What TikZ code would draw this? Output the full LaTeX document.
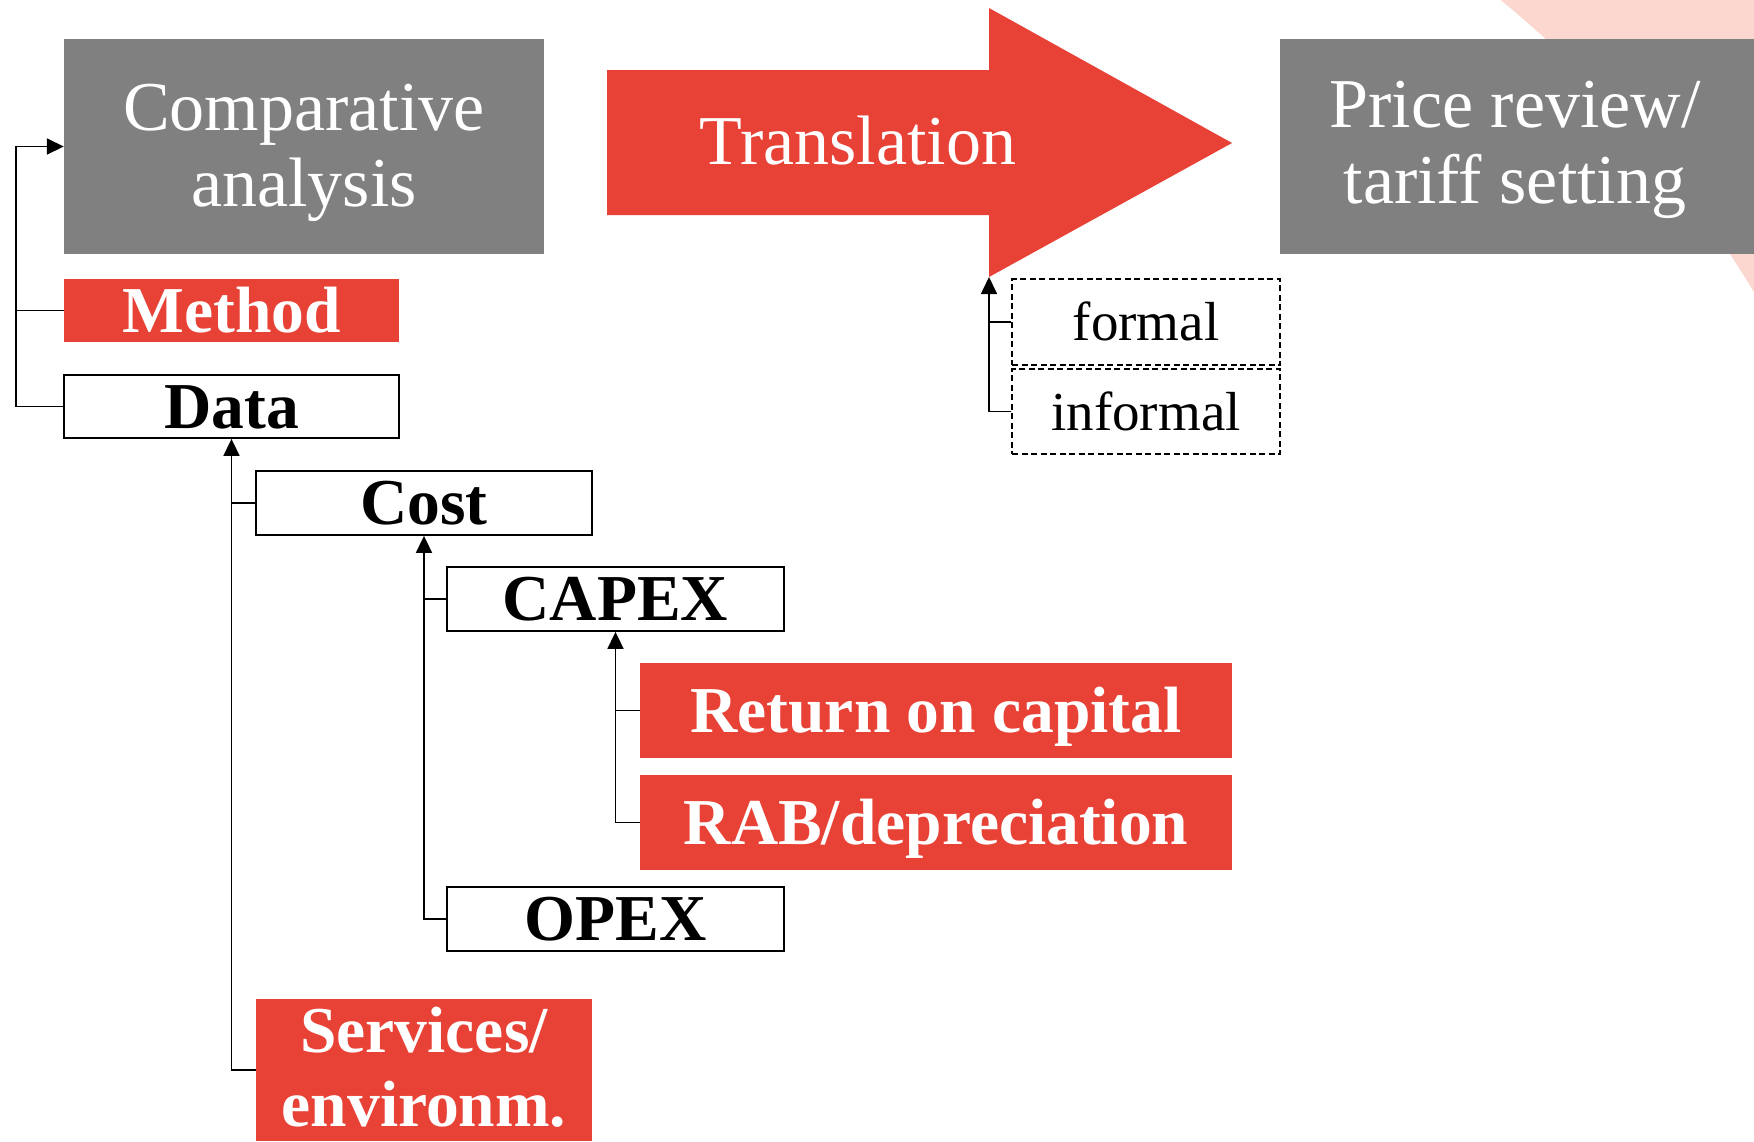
\documentclass[tikz,border=0pt]{standalone}
\usepackage{fontspec}
\setmainfont{Liberation Serif}
\usetikzlibrary{arrows.meta}

\definecolor{cred}{RGB}{232,65,54}
\definecolor{cgray}{RGB}{128,128,128}
\definecolor{cpink}{RGB}{252,215,207}

\newcommand\boldbig{\fontsize{65.5}{74}\selectfont\bfseries}
\newcommand\regbig{\fontsize{70}{76}\selectfont}
\newcommand\regsmall{\fontsize{55}{60}\selectfont}

\tikzset{
  redbox/.style={fill=cred, text=white, inner sep=0pt, font=\boldbig,
    text height=43pt, text depth=0pt},
  whitebox/.style={draw=black, line width=1.8pt, fill=white, inner sep=0pt,
    font=\boldbig, text height=43pt, text depth=0pt},
  graybox/.style={fill=cgray, inner sep=0pt},
  dashbox/.style={draw=black, dash pattern=on 6pt off 3.5pt, line width=1.4pt,
    inner sep=0pt, font=\regsmall, text height=37pt, text depth=0pt},
  whitetext/.style={text=white, inner sep=0pt, align=center},
  conn/.style={line width=1.7pt, draw=black},
  arr/.style={conn, -{Triangle[length=17pt,width=16pt]}},
}

\begin{document}
\begin{tikzpicture}[x=1pt, y=-1pt]
\useasboundingbox (0,0) rectangle (1754,1141);

% decorative corner band: the area outside a large circle
\begin{scope}
  \clip (1400,0) rectangle (1754,400);
  \fill[cpink, even odd rule] (1300,-100) rectangle (1900,500)
    (776,884) circle[radius=1143pt];
\end{scope}

% translation arrow
\coordinate (tbl) at (607,70);
\coordinate (tcorner) at (989,277);
\fill[cred] (tbl) -- (989,70) -- (989,8) -- (1232,143) -- (tcorner)
  -- (989,215) -- (607,215) -- cycle;
\node[whitetext, font=\regbig, anchor=base] (translabel) at (858,164) {Translation};

% top row boxes (base anchor of a two-line node sits on its last line)
\node[graybox, minimum width=480pt, minimum height=215pt] (comp) at (304,146.5) {};
\node[whitetext, font=\regbig, anchor=base] (comptext) at (304,206.7) {Comparative\\analysis};
\node[graybox, minimum width=474pt, minimum height=215pt] (price) at (1517,146.5) {};
\node[whitetext, font=\regbig, anchor=base] (pricetext) at (1515,203) {Price review/\\tariff setting};

% hierarchy boxes
\node[redbox, minimum width=335pt, minimum height=63pt] (method) at (231.5,310.5) {Method};
\node[whitebox, minimum width=335pt, minimum height=63pt] (data) at (231.5,406.5) {Data};
\node[whitebox, minimum width=336pt, minimum height=64pt] (cost) at (424,503) {Cost};
\node[whitebox, minimum width=337pt, minimum height=64pt] (capex) at (615.5,599) {CAPEX};
\node[redbox, minimum width=592pt, minimum height=95pt] (roc) at (936,710.5) {Return on capital};
\node[redbox, minimum width=592pt, minimum height=95pt] (rab) at (936,822.5) {RAB/depreciation};
\node[whitebox, minimum width=337pt, minimum height=64pt] (opex) at (615.5,919) {OPEX};
\node[redbox, minimum width=336pt, minimum height=142pt] (services) at (424,1070) {};
\node[whitetext, font=\boldbig, anchor=base] (servtext) at (424,1126.7) {Services/\\environm.};

% formal / informal
\node[dashbox, minimum width=268pt, minimum height=86pt] (formal) at (1146,322) {formal};
\node[dashbox, minimum width=268pt, minimum height=85pt] (informal) at (1146,411.5) {informal};

% connectors
\coordinate (lx) at (16,0);
\draw[arr] (data.west) -- (data.west -| lx) -- (comp.west -| lx) -- (comp.west);
\draw[conn] (method.west) -- (method.west -| lx);

\draw[arr] (services.west) -| (data.south);
\draw[conn] (cost.west) -- (cost.west -| data.south);

\draw[arr] (opex.west) -| (cost.south);
\draw[conn] (capex.west) -- (capex.west -| cost.south);

\draw[arr] (rab.west) -| (capex.south);
\draw[conn] (roc.west) -- (roc.west -| capex.south);

\draw[arr] (informal.west) -| (tcorner);
\draw[conn] (formal.west) -- (formal.west -| tcorner);
\end{tikzpicture}
\end{document}
